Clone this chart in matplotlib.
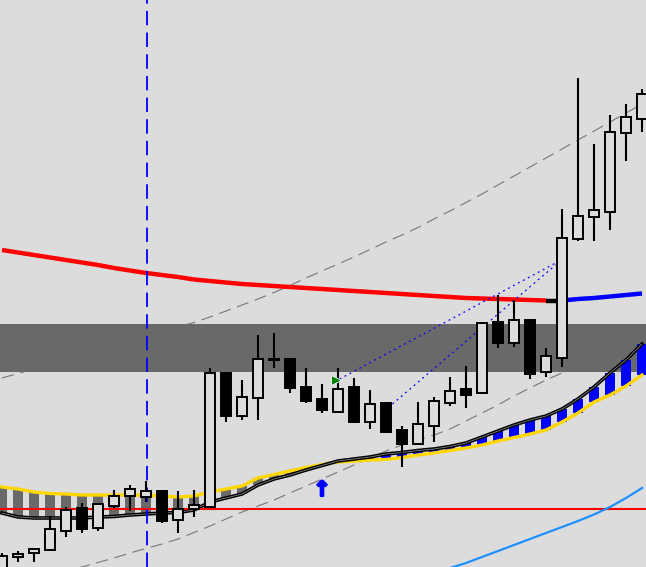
import matplotlib
matplotlib.use("Agg")
import matplotlib.pyplot as plt
import matplotlib.patheffects as pe
from matplotlib.patches import Rectangle

opens  = [570, 557, 553, 550, 531, 508, 528, 506, 496, 497, 491, 520, 509, 507, 373, 416, 398, 359, 359, 387,
          399, 412, 387, 422, 403, 430, 444, 426, 403, 389, 393, 322, 343, 320, 372, 358, 239, 217, 212, 133, 119]
highs  = [553, 551, 549, 516, 507, 503, 503, 490, 485, 481, 491, 491, 490, 368, 373, 380, 335, 333, 358, 368,
          384, 368, 378, 390, 403, 426, 402, 397, 377, 366, 322, 295, 300, 320, 348, 209, 78, 144, 115, 104, 89]
lows   = [572, 562, 562, 550, 537, 533, 531, 508, 511, 502, 523, 533, 517, 507, 422, 420, 420, 368, 393, 403,
          413, 412, 422, 429, 432, 467, 445, 442, 406, 408, 393, 348, 347, 379, 377, 367, 241, 241, 230, 161, 132]
closes = [556, 554, 549, 529, 510, 529, 504, 496, 489, 491, 521, 509, 505, 373, 416, 397, 359, 360, 388, 401,
          410, 389, 422, 404, 432, 444, 424, 401, 391, 395, 323, 343, 320, 374, 356, 238, 216, 210, 132, 117, 94]

ma_slow = [250, 252.5, 255, 257.5, 260, 262.5, 265, 268, 270.5, 273, 275, 277, 279.5, 281, 282.5, 284, 285, 286,
           287, 288, 289, 290, 291, 292, 293, 294, 295, 296, 297, 298, 298.5, 299, 299.5, 300, 300.5, 300.5,
           299, 298, 296.5, 295, 293.5]
ma_colors = ['red'] * 34 + ['black'] + ['blue'] * 5

env_upper = [378, 373.5, 369, 364.5, 360, 355.5, 351, 346, 341, 336, 331.5, 327, 322.5, 317, 311, 305, 299,
             292.5, 285.5, 278, 271, 264, 257, 249.5, 242, 235, 227.5, 219, 211, 202.5, 194, 185, 176, 167,
             158, 149, 140, 131, 122, 113, 104]
env_lower = [590, 585, 580, 576, 571, 567, 562.5, 558, 553, 548.5, 544, 539, 532.5, 526, 519, 512, 506, 500,
             493, 486, 479, 472, 465, 458, 451, 445, 440, 435, 429, 421, 413, 405, 396, 388, 380, 373, 366,
             359, 352, 345, 338]

line_gold = [487, 489, 492, 493.5, 494, 495, 495, 495, 495, 495, 496, 497, 496, 492, 489, 486, 478, 474.5, 471,
             467.5, 464.5, 462, 461, 460, 459.5, 457.5, 455, 453, 450.5, 448, 445, 441, 437.5, 434, 430, 422,
             413, 402, 395, 386, 375]
line_black = [513, 517, 518, 518, 518, 518, 517, 516.5, 515, 514, 513, 512.5, 510, 502, 498, 494, 485, 479, 475,
              470, 465.5, 461, 459, 457, 454, 452.5, 450.5, 449, 446.5, 443, 437, 431, 425, 420, 416, 409, 399,
              387, 373, 360, 344]

curve_idx = list(range(27, 41))
curve_val = [574, 568, 563, 557, 551, 545, 539, 533, 527, 521, 514.5, 507, 498, 488]

band_top, band_bottom = 324, 372
level_red = 509
vline_bar = 9
trend1 = ([21.1, 34.6], [379, 263])
trend2 = ([24.4, 34.6], [404, 265])
buy_arrow = (20, 490)
green_mark = (20.9, 380)

bg = '#dcdcdc'
fig = plt.figure(figsize=(6.46, 5.67), dpi=100)
ax = fig.add_axes([0, 0, 1, 1])
ax.set_facecolor(bg)
fig.patch.set_facecolor(bg)
n = len(opens)
xs = list(range(n))

ax.plot(xs, env_upper, color='#777777', lw=0.8, ls=(0, (11, 6)), zorder=1)
ax.plot(xs, env_lower, color='#777777', lw=0.8, ls=(0, (11, 6)), zorder=1)
ax.axhspan(band_top, band_bottom, color='#696969', lw=0, zorder=2)

for i in xs:
    lo, hi = sorted([line_gold[i], line_black[i]])
    c = '#696969' if line_gold[i] < line_black[i] else '#0000ff'
    ax.add_patch(Rectangle((i - 0.29, lo), 0.58, hi - lo, facecolor=c, lw=0, zorder=3))
ax.plot(xs, line_gold, color='#ffd700', lw=2.4, zorder=4)
ax.plot(xs, line_black, color='black', lw=2.6, zorder=4)
ax.plot(xs, line_black, color='#808080', lw=0.6, zorder=4)
ax.axhline(level_red, color='red', lw=1.5, zorder=5)

for i in range(n - 1):
    ax.plot([i, i + 1], [ma_slow[i], ma_slow[i + 1]], color=ma_colors[i], lw=3.2,
            solid_capstyle='butt', zorder=5)
ax.plot(curve_idx, curve_val, color='#1e90ff', lw=1.6, zorder=5)
ax.plot(*trend1, color='blue', lw=0.9, ls=(0, (1.5, 3)), zorder=5)
ax.plot(*trend2, color='blue', lw=0.9, ls=(0, (1.5, 3)), zorder=5)
ax.axvline(vline_bar + 0.06, color='blue', lw=1.3, ls=(0, (8, 4)), zorder=6)

for i in xs:
    o, h, l, c = opens[i], highs[i], lows[i], closes[i]
    ax.plot([i, i], [h, l], color='black', lw=1.5, zorder=7, solid_capstyle='butt')
    top, bot = min(o, c), max(o, c)
    fill = 'black' if c > o else bg
    ax.add_patch(Rectangle((i - 0.3, top), 0.6, max(bot - top, 0.8), facecolor=fill,
                           edgecolor='black', lw=1.4, zorder=8))

ax.plot(*green_mark, marker='>', color='#008000', ms=7, mec='white', mew=0.6, zorder=9)
ax.text(buy_arrow[0], buy_arrow[1], '\u2191', ha='center', va='center', fontsize=15,
        fontweight='bold', color='blue', zorder=9,
        path_effects=[pe.withStroke(linewidth=1.6, foreground='blue')])

ax.set_xlim(-0.125, 40.25)
ax.set_ylim(567, 0)
ax.axis('off')
fig.savefig('out.png', dpi=100, facecolor=bg)
